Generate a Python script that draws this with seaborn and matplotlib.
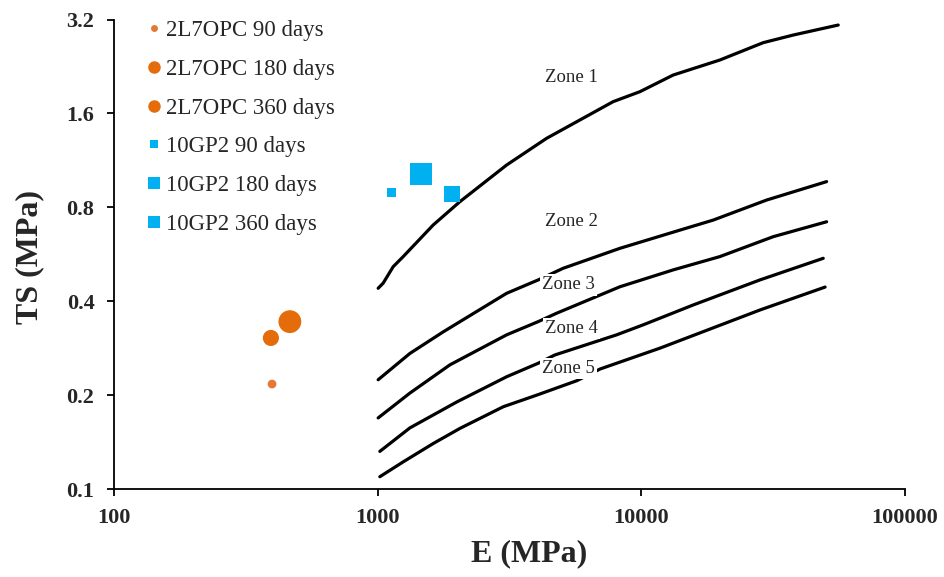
import numpy as np
import pandas as pd
import matplotlib
matplotlib.use('Agg')
import matplotlib.pyplot as plt
from matplotlib.lines import Line2D
from matplotlib.ticker import FixedLocator, NullLocator, FixedFormatter
import seaborn as sns

# ---- data ----
# zone boundary curves (E in MPa, TS in MPa)
line1_e = [1005, 1050, 1146, 1251, 1625, 2052, 3085, 4374, 7823, 9878, 13213, 19860, 28990, 37670, 55810]
line1_ts = [0.440, 0.457, 0.516, 0.556, 0.702, 0.834, 1.093, 1.331, 1.745, 1.878, 2.124, 2.373, 2.697, 2.853, 3.072]

line2_e = [1005, 1326, 1774, 3085, 4064, 5055, 8297, 14010, 18740, 29870, 50430]
line2_ts = [0.224, 0.272, 0.319, 0.424, 0.468, 0.510, 0.591, 0.676, 0.728, 0.844, 0.967]

line3_e = [1005, 1326, 1880, 3085, 4064, 4773, 8297, 13213, 19860, 31640, 50430]
line3_ts = [0.169, 0.203, 0.250, 0.312, 0.344, 0.366, 0.445, 0.504, 0.556, 0.644, 0.719]

line4_e = [1020, 1326, 1994, 3085, 4064, 4703, 8059, 10170, 15730, 28170, 48970]
line4_ts = [0.132, 0.157, 0.190, 0.229, 0.253, 0.269, 0.312, 0.336, 0.389, 0.468, 0.549]

line5_e = [1020, 1253, 1628, 2055, 3000, 4015, 5693, 6979, 11790, 28210, 49770]
line5_ts = [0.1095, 0.1223, 0.140, 0.1565, 0.1836, 0.200, 0.2224, 0.2425, 0.283, 0.375, 0.444]

zone_names = ['Zone 1', 'Zone 2', 'Zone 3', 'Zone 4', 'Zone 5']
zone_label_e = [5420, 5420, 5300, 5420, 5300]
zone_label_ts = [2.08, 0.718, 0.451, 0.328, 0.244]

# measured points
ages = ['90 days', '180 days', '360 days']
opc_e = [398, 394, 465]
opc_ts = [0.217, 0.305, 0.344]
gp_e = [1129, 1918, 1460]
gp_ts = [0.891, 0.880, 1.023]
point_sizes = [40, 135, 270]

y_ticks = [0.1, 0.2, 0.4, 0.8, 1.6, 3.2]
y_tick_labels = ['0.1', '0.2', '0.4', '0.8', '1.6', '3.2']
x_ticks = [100, 1000, 10000, 100000]
x_tick_labels = ['100', '1000', '10000', '100000']

orange = '#E46C0A'
orange_light = '#E37A34'
blue = '#00B0F0'

sns.set_theme(style='white')
plt.rcParams['font.family'] = ['Liberation Serif', 'DejaVu Serif']

fig = plt.figure(figsize=(9.44, 5.77), dpi=100)
ax = fig.add_axes([0.1206, 0.1525, 0.8381, 0.8137])

lines = [(line1_e, line1_ts), (line2_e, line2_ts), (line3_e, line3_ts),
         (line4_e, line4_ts), (line5_e, line5_ts)]
for xs, ys in lines:
    sns.lineplot(x=xs, y=ys, ax=ax, color='black', linewidth=2.3,
                 estimator=None, sort=False, zorder=2)

for name, xe, yt in zip(zone_names, zone_label_e, zone_label_ts):
    ax.text(xe, yt, name, fontsize=13.5, ha='center', va='center', zorder=4,
            bbox=dict(facecolor='white', edgecolor='none', pad=1.5))

opc_df = pd.DataFrame({'E': opc_e, 'TS': opc_ts, 'age': ages})
gp_df = pd.DataFrame({'E': gp_e, 'TS': gp_ts, 'age': ages})
opc_colors = [orange_light, orange, orange]
for i in range(3):
    sns.scatterplot(data=opc_df.iloc[[i]], x='E', y='TS', ax=ax, s=point_sizes[i],
                    color=opc_colors[i], marker='o', edgecolor='none', zorder=5, legend=False)
    sns.scatterplot(data=gp_df.iloc[[i]], x='E', y='TS', ax=ax, s=point_sizes[i],
                    color=blue, marker='s', edgecolor='none', zorder=5, legend=False)

ax.set_xscale('log')
ax.set_yscale('log')
ax.set_xlim(100, 100000)
ax.set_ylim(0.1, 3.2)
ax.yaxis.set_major_locator(FixedLocator(y_ticks))
ax.yaxis.set_major_formatter(FixedFormatter(y_tick_labels))
ax.yaxis.set_minor_locator(NullLocator())
ax.xaxis.set_major_locator(FixedLocator(x_ticks))
ax.xaxis.set_major_formatter(FixedFormatter(x_tick_labels))
ax.xaxis.set_minor_locator(NullLocator())

for side in ['top', 'right']:
    ax.spines[side].set_visible(False)
for side in ['left', 'bottom']:
    ax.spines[side].set_color('black')
    ax.spines[side].set_linewidth(1.3)

ax.tick_params(axis='both', which='major', direction='out', length=5, width=1.3,
               color='black', labelsize=16, pad=9, left=True, bottom=True)
for lab in ax.get_xticklabels() + ax.get_yticklabels():
    lab.set_fontweight('bold')

ax.set_xlabel('E (MPa)', fontsize=23, fontweight='bold')
ax.set_ylabel('TS (MPa)', fontsize=23, fontweight='bold')
ax.xaxis.set_label_coords(0.525, -0.107)
ax.yaxis.set_label_coords(-0.088, 0.494)

handles = [
    Line2D([], [], marker='o', linestyle='none', color=orange_light, markersize=5, markeredgewidth=0),
    Line2D([], [], marker='o', linestyle='none', color=orange, markersize=9, markeredgewidth=0),
    Line2D([], [], marker='o', linestyle='none', color=orange, markersize=9, markeredgewidth=0),
    Line2D([], [], marker='s', linestyle='none', color=blue, markersize=5.5, markeredgewidth=0),
    Line2D([], [], marker='s', linestyle='none', color=blue, markersize=8.5, markeredgewidth=0),
    Line2D([], [], marker='s', linestyle='none', color=blue, markersize=8.5, markeredgewidth=0),
]
labels = ['2L7OPC ' + a for a in ages] + ['10GP2 ' + a for a in ages]
ax.legend(handles, labels, loc='upper left', bbox_to_anchor=(0.037, 1.008),
          frameon=False, fontsize=16.5, handlelength=0.55, handletextpad=0.25,
          labelspacing=0.77, borderaxespad=0, borderpad=0.2)

fig.savefig('out.png', dpi=100)
